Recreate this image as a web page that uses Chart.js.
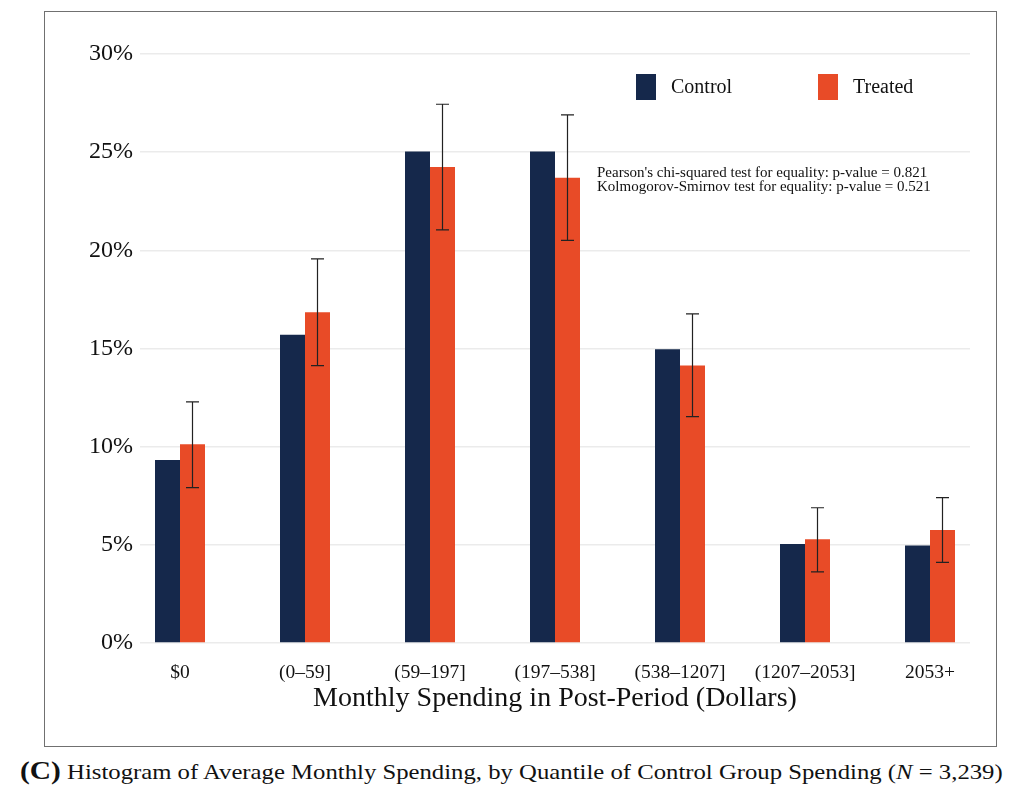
<!DOCTYPE html>
<html>
<head>
<meta charset="utf-8">
<script src="https://cdn.jsdelivr.net/npm/chart.js@4.4.1/dist/chart.umd.min.js"></script>
<style>
  body { margin: 0; background: #fff; }
  #frame { position: absolute; left: 44px; top: 11px; width: 951px; height: 734px; border: 1.5px solid #707070; }
  #wrap { position: absolute; left: 0; top: 0; width: 1025px; height: 750px; }
  #caption { position: absolute; left: 20px; top: 757px; white-space: nowrap;
             font-family: 'Liberation Serif', 'Times New Roman', serif; font-size: 21px; color: #111;
             transform-origin: left center; }
  #caption b { font-size: 25px; }
</style>
</head>
<body>
<div id="frame"></div>
<div id="wrap"><canvas id="grafico"></canvas></div>
<div id="caption"><b>(C)</b> Histogram of Average Monthly Spending, by Quantile of Control Group Spending (<i>N</i> = 3,239)</div>
<script>
// Dados (%)
var categorias = ['$0', '(0–59]', '(59–197]', '(197–538]', '(538–1207]', '(1207–2053]', '2053+'];
var controle = [9.32, 15.70, 25.03, 25.03, 14.96, 5.04, 4.96];
var tratado = [10.12, 16.85, 24.25, 23.70, 14.13, 5.28, 5.76];
var tratadoInf = [7.91, 14.13, 21.04, 20.51, 11.53, 3.62, 4.11];
var tratadoSup = [12.28, 19.56, 27.44, 26.90, 16.76, 6.89, 7.40];
var yTicks = [0, 5, 10, 15, 20, 25, 30];

var serif = "'Liberation Serif', 'Times New Roman', serif";
var corControle = '#15284b';
var corTratado = '#e84b27';

// Barras de erro do grupo tratado
var barrasErro = {
    id: 'barrasErro',
    afterDatasetsDraw: function (chart) {
        var ctx = chart.ctx;
        var y = chart.scales.y;
        var meta = chart.getDatasetMeta(1);
        ctx.save();
        ctx.strokeStyle = '#222';
        ctx.lineWidth = 1.2;
        meta.data.forEach(function (bar, i) {
            var yLo = y.getPixelForValue(tratadoInf[i]);
            var yHi = y.getPixelForValue(tratadoSup[i]);
            ctx.beginPath();
            ctx.moveTo(bar.x, yLo); ctx.lineTo(bar.x, yHi);
            ctx.moveTo(bar.x - 6.5, yLo); ctx.lineTo(bar.x + 6.5, yLo);
            ctx.moveTo(bar.x - 6.5, yHi); ctx.lineTo(bar.x + 6.5, yHi);
            ctx.stroke();
        });
        ctx.restore();
    }
};

// Legenda e texto dos testes
var legendaTexto = {
    id: 'legendaTexto',
    afterDraw: function (chart) {
        var ctx = chart.ctx;
        var pos = [636, 818];
        ctx.save();
        ctx.textBaseline = 'middle';
        ctx.textAlign = 'left';
        chart.data.datasets.forEach(function (ds, i) {
            ctx.fillStyle = ds.backgroundColor;
            ctx.fillRect(pos[i], 74, 20, 26);
            ctx.fillStyle = '#111';
            ctx.font = '20px ' + serif;
            ctx.fillText(ds.label, pos[i] + 35, 88);
        });
        ctx.font = '15px ' + serif;
        ctx.fillText("Pearson's chi-squared test for equality: p-value = 0.821", 597, 173);
        ctx.fillText('Kolmogorov-Smirnov test for equality: p-value = 0.521', 597, 187);
        ctx.restore();
    }
};

document.addEventListener('DOMContentLoaded', function () {
    var ctx = document.getElementById('grafico').getContext('2d');
    var grafico = new Chart(ctx, {
        type: 'bar',
        data: {
            datasets: [{
                label: 'Control',
                data: controle.map(function (v, i) { return { x: i, y: v }; }),
                backgroundColor: corControle
            }, {
                label: 'Treated',
                data: tratado.map(function (v, i) { return { x: i, y: v }; }),
                backgroundColor: corTratado
            }]
        },
        options: {
            responsive: true,
            maintainAspectRatio: false,
            animation: false,
            layout: { padding: { left: 40, right: 55, top: 54, bottom: 27 } },
            datasets: { bar: { categoryPercentage: 0.4, barPercentage: 1.0 } },
            plugins: { legend: { display: false }, tooltip: { enabled: false } },
            scales: {
                x: {
                    type: 'linear',
                    offset: false,
                    min: -0.32,
                    max: categorias.length - 1 + 0.32,
                    grid: { display: false, drawTicks: false, offset: false },
                    border: { display: false },
                    afterBuildTicks: function (scale) {
                        scale.ticks = categorias.map(function (c, i) { return { value: i }; });
                    },
                    afterFit: function (scale) { scale.height = 80; },
                    ticks: {
                        padding: 18,
                        color: '#111',
                        font: { family: serif, size: 19.5 },
                        callback: function (v) { return categorias[v]; }
                    },
                    title: {
                        display: true,
                        text: 'Monthly Spending in Post-Period (Dollars)',
                        color: '#111',
                        font: { family: serif, size: 28, lineHeight: 1.2 },
                        padding: { top: 0, bottom: 8 }
                    }
                },
                y: {
                    min: 0,
                    max: 30,
                    afterBuildTicks: function (scale) {
                        scale.ticks = yTicks.map(function (v) { return { value: v }; });
                    },
                    afterFit: function (scale) { scale.width = 100; },
                    grid: { color: '#ebebeb', lineWidth: 1.5, drawTicks: false },
                    border: { display: false },
                    ticks: {
                        padding: 7,
                        color: '#111',
                        font: { family: serif, size: 24 },
                        callback: function (v) { return v + '%'; }
                    }
                }
            }
        },
        plugins: [barrasErro, legendaTexto]
    });

    // Ajusta a legenda da figura à largura do original
    var cap = document.getElementById('caption');
    cap.style.transform = 'scaleX(' + (983 / cap.offsetWidth) + ')';
});
</script>
</body>
</html>
